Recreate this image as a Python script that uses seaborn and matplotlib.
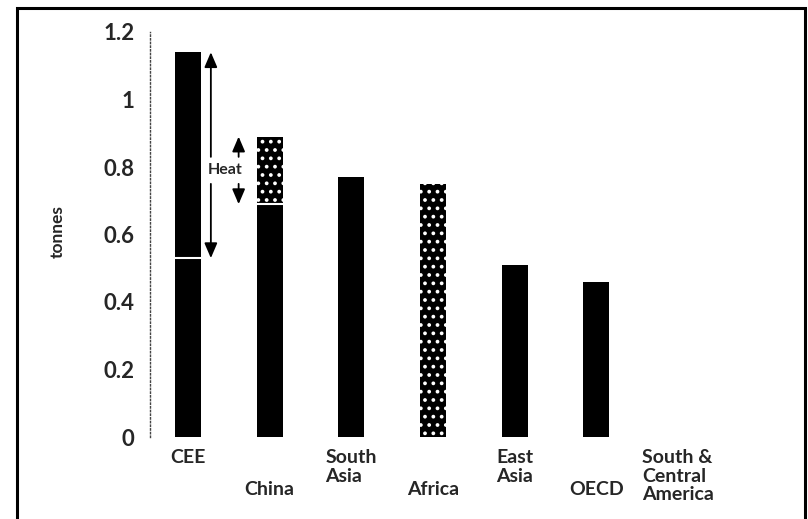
import matplotlib
matplotlib.use("Agg")
import matplotlib.pyplot as plt
import seaborn as sns
import pandas as pd
from matplotlib.patches import Rectangle

# values (tonnes)
regions = ["CEE", "China", "South\nAsia", "Africa", "East\nAsia", "OECD", "South &\nCentral\nAmerica"]
base = [0.53, 0.69, 0.77, 0.0, 0.51, 0.46, 0.0]
heat = [0.61, 0.20, 0.0, 0.0, 0.0, 0.0, 0.0]
speckled = [0.0, 0.0, 0.0, 0.75, 0.0, 0.0, 0.0]
yticks = [0, 0.2, 0.4, 0.6, 0.8, 1.0, 1.2]
ytick_labels = ["0", "0.2", "0.4", "0.6", "0.8", "1", "1.2"]

total = [b + h + s for b, h, s in zip(base, heat, speckled)]
data = pd.DataFrame({"region": regions, "total": total})

sns.set_style("white")
plt.rcParams['font.family'] = ['Lato', 'DejaVu Sans']
plt.rcParams['hatch.linewidth'] = 1.5

fig = plt.figure(figsize=(8.08, 5.19), dpi=100)
ax = fig.add_axes([150/808, 1-437/519, 640/808, 405/519])

sns.barplot(data=data, x="region", y="total", color="black", width=0.32,
            saturation=1, ax=ax, edgecolor="none")

# speckled parts: China heat, whole Africa bar
for i in range(len(regions)):
    if speckled[i] > 0:
        ax.bar(i, speckled[i], width=0.32, bottom=0, facecolor="none",
               edgecolor="white", hatch="..", linewidth=0)
    if heat[i] > 0 and i == 1:
        ax.bar(i, heat[i], width=0.32, bottom=base[i], facecolor="none",
               edgecolor="white", hatch="..", linewidth=0)
    if heat[i] > 0:
        ax.hlines(base[i], i - 0.16, i + 0.16, color="white", lw=1.5)

# heat arrows
heads = dict(arrowstyle="-|>,head_width=0.3,head_length=0.7", color="black",
             lw=1.3, mutation_scale=13, shrinkA=0, shrinkB=0)
for i, xa in [(0, 0.28), (1, 0.62)]:
    ax.annotate("", xy=(xa, base[i] + heat[i]), xytext=(xa, 0.83), arrowprops=heads)
    ax.annotate("", xy=(xa, base[i]), xytext=(xa, 0.75), arrowprops=heads)
ax.text(0.46, 0.79, "Heat", ha="center", va="center", fontsize=11.5, fontweight="bold")

ax.set_xlim(-0.465, 7.37)
ax.set_ylim(0, 1.2)
ax.set_yticks(yticks)
ax.set_yticklabels(ytick_labels, fontsize=16, fontweight="bold")
ax.tick_params(axis="y", length=0, pad=11)
ax.set_xticks([])
ax.set_xlabel("")
ax.set_ylabel("")
for s in ["top", "right", "bottom"]:
    ax.spines[s].set_visible(False)
ax.spines["left"].set_linestyle(":")
ax.spines["left"].set_linewidth(1.0)
ax.spines["left"].set_color("#444444")

# staggered category labels
for i, lab in enumerate(regions):
    yy = -0.03 if i % 2 == 0 else -0.108
    ax.text(i, yy, lab, transform=ax.get_xaxis_transform(), ha="center",
            va="top", multialignment="left", fontsize=14, fontweight="bold",
            linespacing=1.1)

fig.text(58/808, 1-232/519, "tonnes", rotation=90, ha="center", va="center",
         fontsize=12.5, fontweight="bold")

# outer frame of the scanned figure
fig.patches.append(Rectangle((17/808, -0.05), (805-17)/808, 1.05-8/519,
                             transform=fig.transFigure, fill=False,
                             edgecolor="black", lw=2.2))

fig.savefig("out.png", dpi=100)
